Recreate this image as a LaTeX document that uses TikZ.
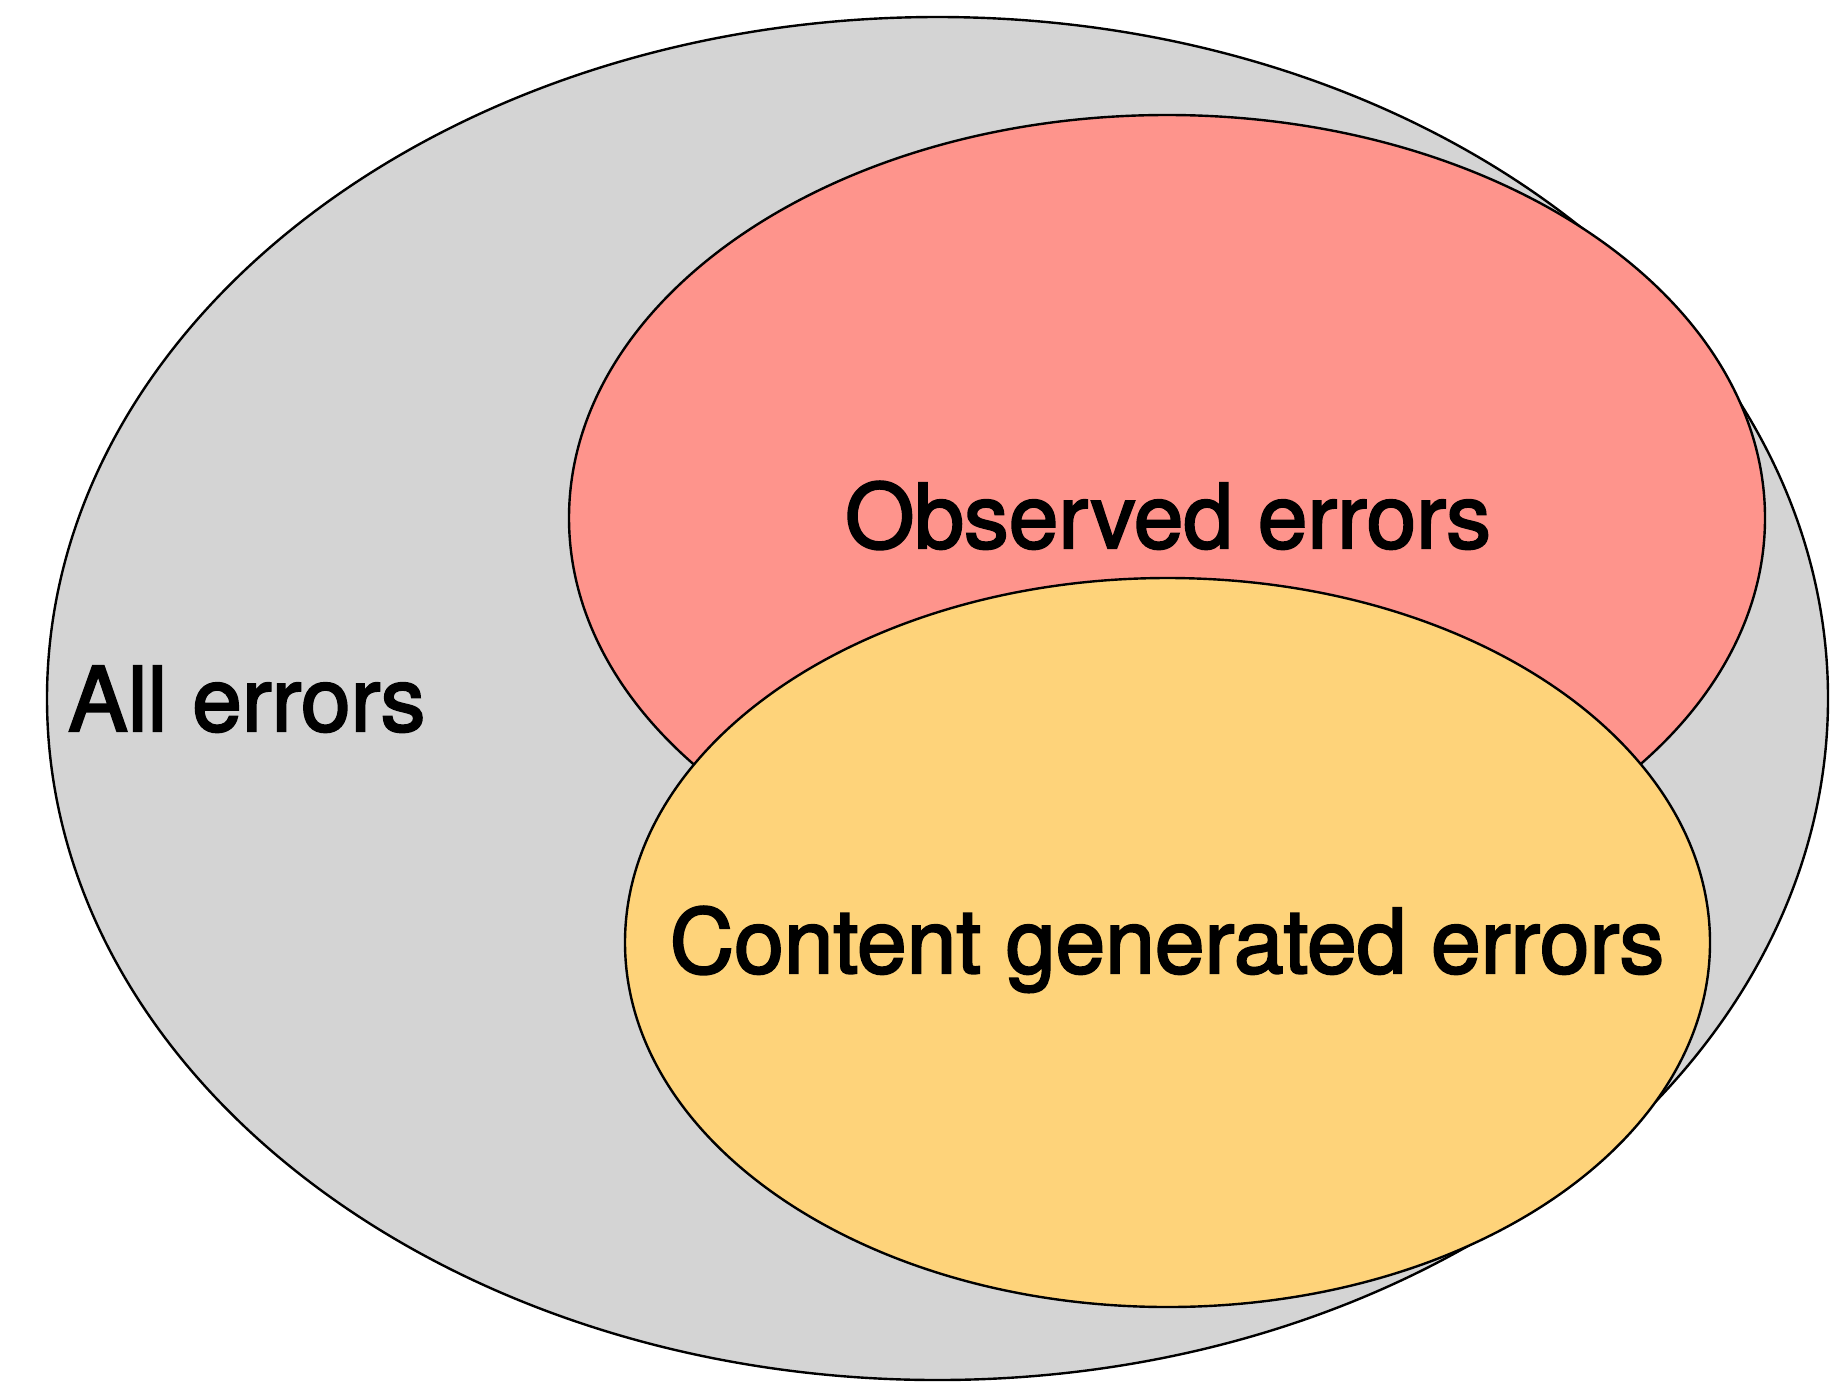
\documentclass[tikz,border=0pt]{standalone}
\usepackage{fontspec}
\setmainfont{TeX Gyre Heros}[FakeBold=2.4]
\usetikzlibrary{shapes.geometric}
\definecolor{allgray}{HTML}{D4D4D4}
\definecolor{obsred}{HTML}{FE948C}
\definecolor{conyellow}{HTML}{FED37A}
\tikzset{
  set/.style={ellipse, draw=black, line width=2.4pt, inner sep=0pt, outer sep=0pt},
  lbl/.style={anchor=base, inner sep=0pt, font=\fontsize{89.3}{100}\selectfont}
}
\begin{document}
\begin{tikzpicture}[x=1pt,y=-1pt]
\useasboundingbox (0,0) rectangle (1843,1398);
\node[set, fill=allgray, minimum width=1781pt, minimum height=1363pt] (all) at (937.5,698.5) {};
\node[set, fill=obsred, minimum width=1196pt, minimum height=806pt] (obs) at (1167,518) {};
\node[set, fill=conyellow, minimum width=1085pt, minimum height=729pt] (con) at (1167.5,942.5) {};
\node[lbl, anchor=base west] (allt) at (68,731) {All errors};
\node[lbl] (obst) at (1168,548) {Observed errors};
\node[lbl] (cont) at (1167,973) {Content generated errors};
\end{tikzpicture}
\end{document}
